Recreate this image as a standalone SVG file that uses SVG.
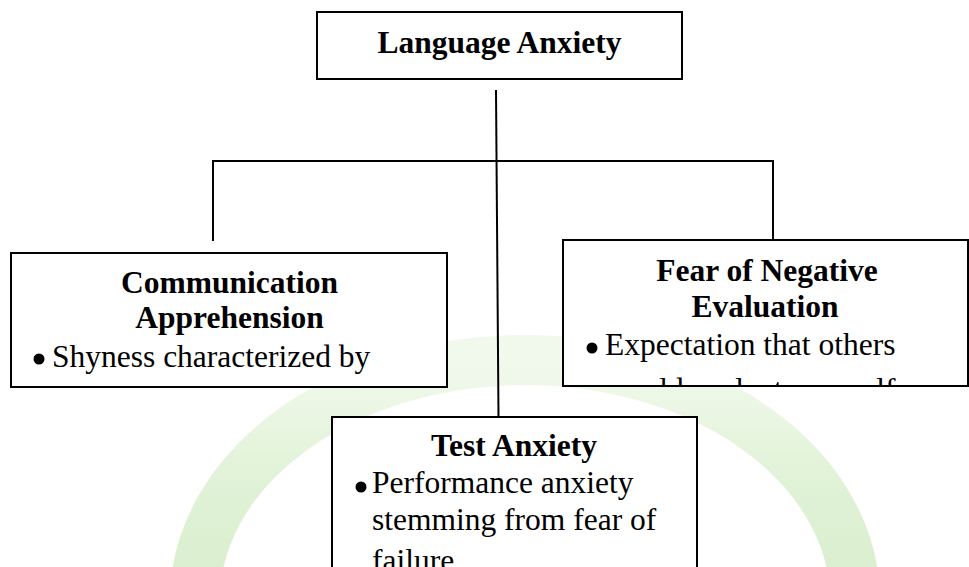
<svg xmlns="http://www.w3.org/2000/svg" width="969" height="567" viewBox="0 0 969 567">
  <style>
    .box { fill: #ffffff; stroke: #000000; stroke-width: 2; }
    .wire { fill: none; stroke: #000000; stroke-width: 2; }
    .title { font-family: "Liberation Serif", "Times New Roman", serif; font-weight: bold; font-size: 31.5px; fill: #000000; text-anchor: middle; }
    .body { font-family: "Liberation Serif", "Times New Roman", serif; font-size: 31.5px; fill: #000000; }
    .bullet { fill: #000000; }
  </style>
  <defs>
    <clipPath id="clipFne"><rect x="564" y="241" width="403" height="144"/></clipPath>
    <linearGradient id="wm" x1="0" y1="0" x2="0" y2="1">
      <stop offset="0" stop-color="#eef8e8"/>
      <stop offset="0.5" stop-color="#d9efcd"/>
      <stop offset="1" stop-color="#cfeac0"/>
    </linearGradient>
  </defs>
  <rect width="969" height="567" fill="#ffffff"/>
  <g id="watermark" opacity="0.8">
    <path d="M 195 600 A 330 240 0 0 1 855 600" fill="none" stroke="url(#wm)" stroke-width="50"/>
  </g>
  <g id="connectors">
    <line class="wire" x1="496" y1="90" x2="498.5" y2="417"/>
    <polyline class="wire" points="213,241 213,161 773,161 773,240"/>
  </g>
  <g id="language-anxiety">
    <rect class="box" x="317" y="12" width="365" height="67"/>
    <text class="title" x="499.5" y="53">Language Anxiety</text>
  </g>
  <g id="communication-apprehension">
    <rect class="box" x="11" y="253" width="436" height="134"/>
    <text class="title" x="229.5" y="293">Communication</text>
    <text class="title" x="229.5" y="328">Apprehension</text>
    <circle class="bullet" cx="39" cy="359" r="5.5"/>
    <text class="body" x="52" y="367">Shyness characterized by</text>
  </g>
  <g id="fear-of-negative-evaluation">
    <rect class="box" x="563" y="240" width="405" height="146"/>
    <text class="title" x="767" y="281">Fear of Negative</text>
    <text class="title" x="765" y="317">Evaluation</text>
    <circle class="bullet" cx="592" cy="348" r="5.5"/>
    <text class="body" x="605" y="355">Expectation that others</text>
    <g clip-path="url(#clipFne)">
      <text class="body" x="605" y="400">would evaluate oneself</text>
    </g>
  </g>
  <g id="test-anxiety">
    <rect class="box" x="332" y="417" width="365" height="200"/>
    <text class="title" x="514" y="456">Test Anxiety</text>
    <circle class="bullet" cx="361" cy="487" r="5.5"/>
    <text class="body" x="372" y="493">Performance anxiety</text>
    <text class="body" x="372" y="530">stemming from fear of</text>
    <text class="body" x="372" y="571">failure</text>
  </g>
</svg>
